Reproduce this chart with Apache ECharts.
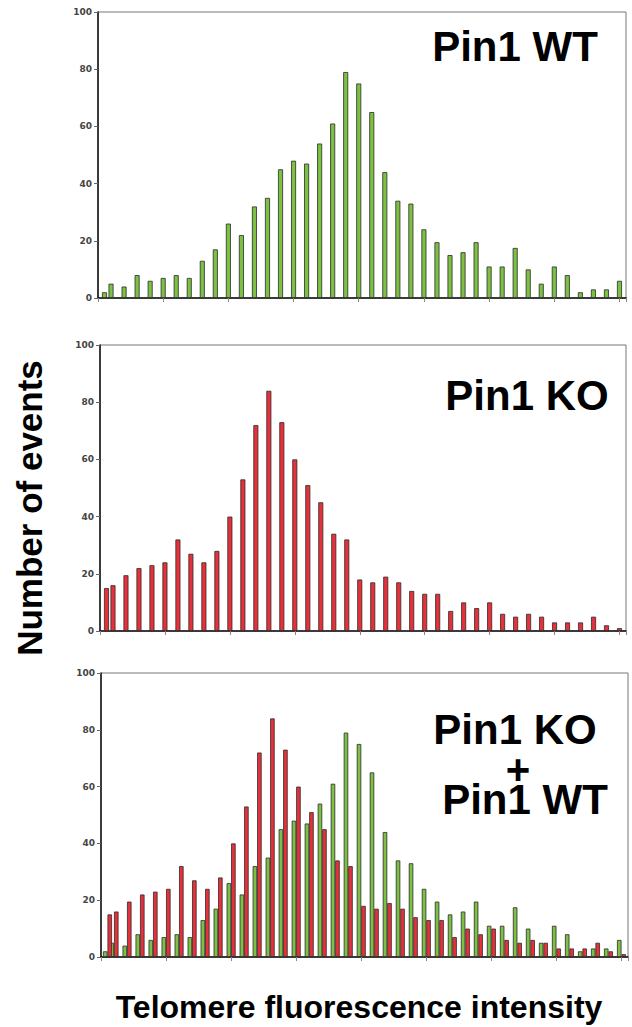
<!DOCTYPE html>
<html lang="en">
<head>
<meta charset="UTF-8">
<title>Pin1 telomere fluorescence</title>
<script src="https://cdn.jsdelivr.net/npm/echarts@6/dist/echarts.min.js"></script>
<style>
  html, body { margin: 0; padding: 0; background: #fff; }
  #viz { width: 632px; height: 1027px; }
</style>
</head>
<body>
<div id="viz"></div>
<script>
  // bin positions on the intensity axis (first bin is a half bin)
  const binPos = [0.5, 1, 2, 3, 4, 5, 6, 7, 8, 9, 10, 11, 12, 13, 14, 15, 16, 17, 18, 19, 20,
    21, 22, 23, 24, 25, 26, 27, 28, 29, 30, 31, 32, 33, 34, 35, 36, 37, 38, 39, 40];
  const wtCounts = [2, 5, 4, 8, 6, 7, 8, 7, 13, 17, 26, 22, 32, 35, 45, 48, 47, 54, 61, 79,
    75, 65, 44, 34, 33, 24, 19.5, 15, 16, 19.5, 11, 11, 17.5, 10, 5, 11, 8, 2, 3, 3, 6];
  const koCounts = [15, 16, 19.5, 22, 23, 24, 32, 27, 24, 28, 40, 53, 72, 84, 73, 60, 51, 45, 34, 32,
    18, 17, 19, 17, 14, 13, 13, 7, 10, 8, 10, 6, 5, 6, 5, 3, 3, 3, 5, 2, 1];
  const yMin = 0, yMax = 100, yStep = 20;
  const xMin = 0, xMax = 40.5, xStep = 5;

  const GREEN = '#7cc142';
  const RED = '#e8303a';
  const FONT = '"Liberation Sans", Arial, sans-serif';
  const BIG = 'bold 42px ' + FONT;

  const pairs = vals => binPos.map((x, i) => [x, vals[i]]);

  const grids = [
    { left: 98, top: 12, width: 528, height: 286 },
    { left: 100, top: 345, width: 526, height: 286 },
    { left: 101, top: 673, width: 527, height: 284 }
  ];

  const xAxisBase = i => ({
    type: 'value', gridIndex: i, min: xMin, max: xMax, interval: xStep,
    axisLabel: { show: false },
    axisLine: { show: true, lineStyle: { color: '#111', width: 1.5 } },
    axisTick: { show: true, length: 4, lineStyle: { color: '#888' } },
    splitLine: { show: false }
  });
  const yAxisBase = i => ({
    type: 'value', gridIndex: i, min: yMin, max: yMax, interval: yStep,
    axisLabel: { fontSize: 9, fontWeight: 'bold', fontFamily: '"DejaVu Sans", sans-serif', color: '#444', margin: 6 },
    axisLine: { show: true, lineStyle: { color: '#111', width: 1.5 } },
    axisTick: { show: true, length: 4, lineStyle: { color: '#666' } },
    splitLine: { show: false }
  });

  const barStyle = c => ({ color: c, borderColor: '#2b2b2b', borderWidth: 0.8 });

  const label = (text, x, y) => ({
    type: 'text', x, y,
    style: { text, font: BIG, fill: '#000', align: 'center', verticalAlign: 'middle' }
  });

  const option = {
    animation: false,
    backgroundColor: '#fff',
    grid: grids.map(g => Object.assign({ show: true, borderColor: '#777', borderWidth: 1 }, g)),
    xAxis: [0, 1, 2].map(xAxisBase),
    yAxis: [0, 1, 2].map(yAxisBase),
    series: [
      { type: 'bar', xAxisIndex: 0, yAxisIndex: 0, barWidth: 5, data: pairs(wtCounts), itemStyle: barStyle(GREEN) },
      { type: 'bar', xAxisIndex: 1, yAxisIndex: 1, barWidth: 5, data: pairs(koCounts), itemStyle: barStyle(RED) },
      { type: 'bar', xAxisIndex: 2, yAxisIndex: 2, barWidth: 4.5, barGap: '0%', data: pairs(wtCounts), itemStyle: barStyle(GREEN) },
      { type: 'bar', xAxisIndex: 2, yAxisIndex: 2, barWidth: 4.5, barGap: '0%', data: pairs(koCounts), itemStyle: barStyle(RED) }
    ],
    graphic: [
      label('Pin1 WT', 515, 46),
      label('Pin1 KO', 527, 395),
      // the combined label is one rich text block, the "+" squeezed between the lines
      {
        type: 'text', x: 518, y: 699,
        style: {
          text: '{k|Pin1 KO}\n{p|+}\n{w|Pin1 WT}',
          align: 'center', verticalAlign: 'top', fill: '#000',
          rich: {
            k: { font: BIG, lineHeight: 60, padding: [0, 6, 0, 0] },
            p: { font: BIG, lineHeight: 20 },
            w: { font: BIG, lineHeight: 40, padding: [0, 0, 0, 14] }
          }
        }
      },
      {
        type: 'text', x: 29, y: 508, rotation: Math.PI / 2,
        style: { text: 'Number of events', font: 'bold 35px ' + FONT, fill: '#000', align: 'center', verticalAlign: 'middle' }
      },
      {
        type: 'text', x: 359, y: 1007,
        style: { text: 'Telomere fluorescence intensity', font: 'bold 32px ' + FONT, fill: '#000', align: 'center', verticalAlign: 'middle' }
      }
    ]
  };

  const chart = echarts.init(document.getElementById('viz'), null, { renderer: 'svg' });
  chart.setOption(option);
  window.onresize = () => chart.resize();
</script>
</body>
</html>
